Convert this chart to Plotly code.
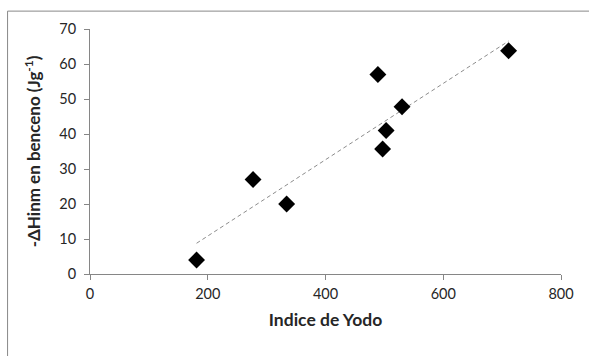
import numpy as np
import plotly.graph_objects as go

# Data
indice_yodo = [181, 277, 334, 489, 497, 503, 530, 711]
delta_h = [4.0, 27.0, 20.0, 57.0, 35.7, 41.0, 47.8, 63.8]

x_ticks = [0, 200, 400, 600, 800]
y_ticks = [0, 10, 20, 30, 40, 50, 60, 70]

# Linear trendline (least squares) across the data range
slope, intercept = np.polyfit(indice_yodo, delta_h, 1)
trend_x = [min(indice_yodo), max(indice_yodo)]
trend_y = [slope * v + intercept for v in trend_x]

FONT = "Lato, 'Open Sans', sans-serif"
AX = "#868686"

fig = go.Figure()
fig.add_trace(go.Scatter(
    x=trend_x, y=trend_y, mode="lines",
    line=dict(color="#8c8c8c", width=1, dash="4px,3px"),
    hoverinfo="skip", showlegend=False))
fig.add_trace(go.Scatter(
    x=indice_yodo, y=delta_h, mode="markers",
    marker=dict(symbol="diamond", size=13, color="black"),
    showlegend=False))

fig.update_layout(
    width=589, height=356,
    margin=dict(l=90, r=28, t=29, b=82),
    paper_bgcolor="white", plot_bgcolor="white",
    font=dict(family=FONT, size=14.5, color="#262626"),
    xaxis=dict(range=[0, 800], tickvals=x_ticks, showgrid=False, zeroline=False,
               showline=True, linecolor=AX, linewidth=1, ticks="outside",
               tickcolor=AX, ticklen=5, tickfont=dict(size=14.5),
               ticklabelstandoff=2,
               title=dict(text="<b>Indice de Yodo</b>", font=dict(size=17.5), standoff=12)),
    yaxis=dict(range=[0, 70], tickvals=y_ticks, showgrid=False, zeroline=False,
               showline=True, linecolor=AX, linewidth=1, ticks="outside",
               tickcolor=AX, ticklen=5, tickfont=dict(size=14.5),
               ticklabelstandoff=5,
               title=dict(text="<b>-ΔHinm en benceno (Jg<sup>-1</sup>)</b>",
                          font=dict(size=17), standoff=14)),
    shapes=[dict(type="rect", xref="paper", yref="paper",
                 x0=-0.175, x1=1.3, y0=-0.6, y1=1.073,
                 line=dict(color="#888888", width=1), layer="below")],
)

fig.write_html("out.html")
